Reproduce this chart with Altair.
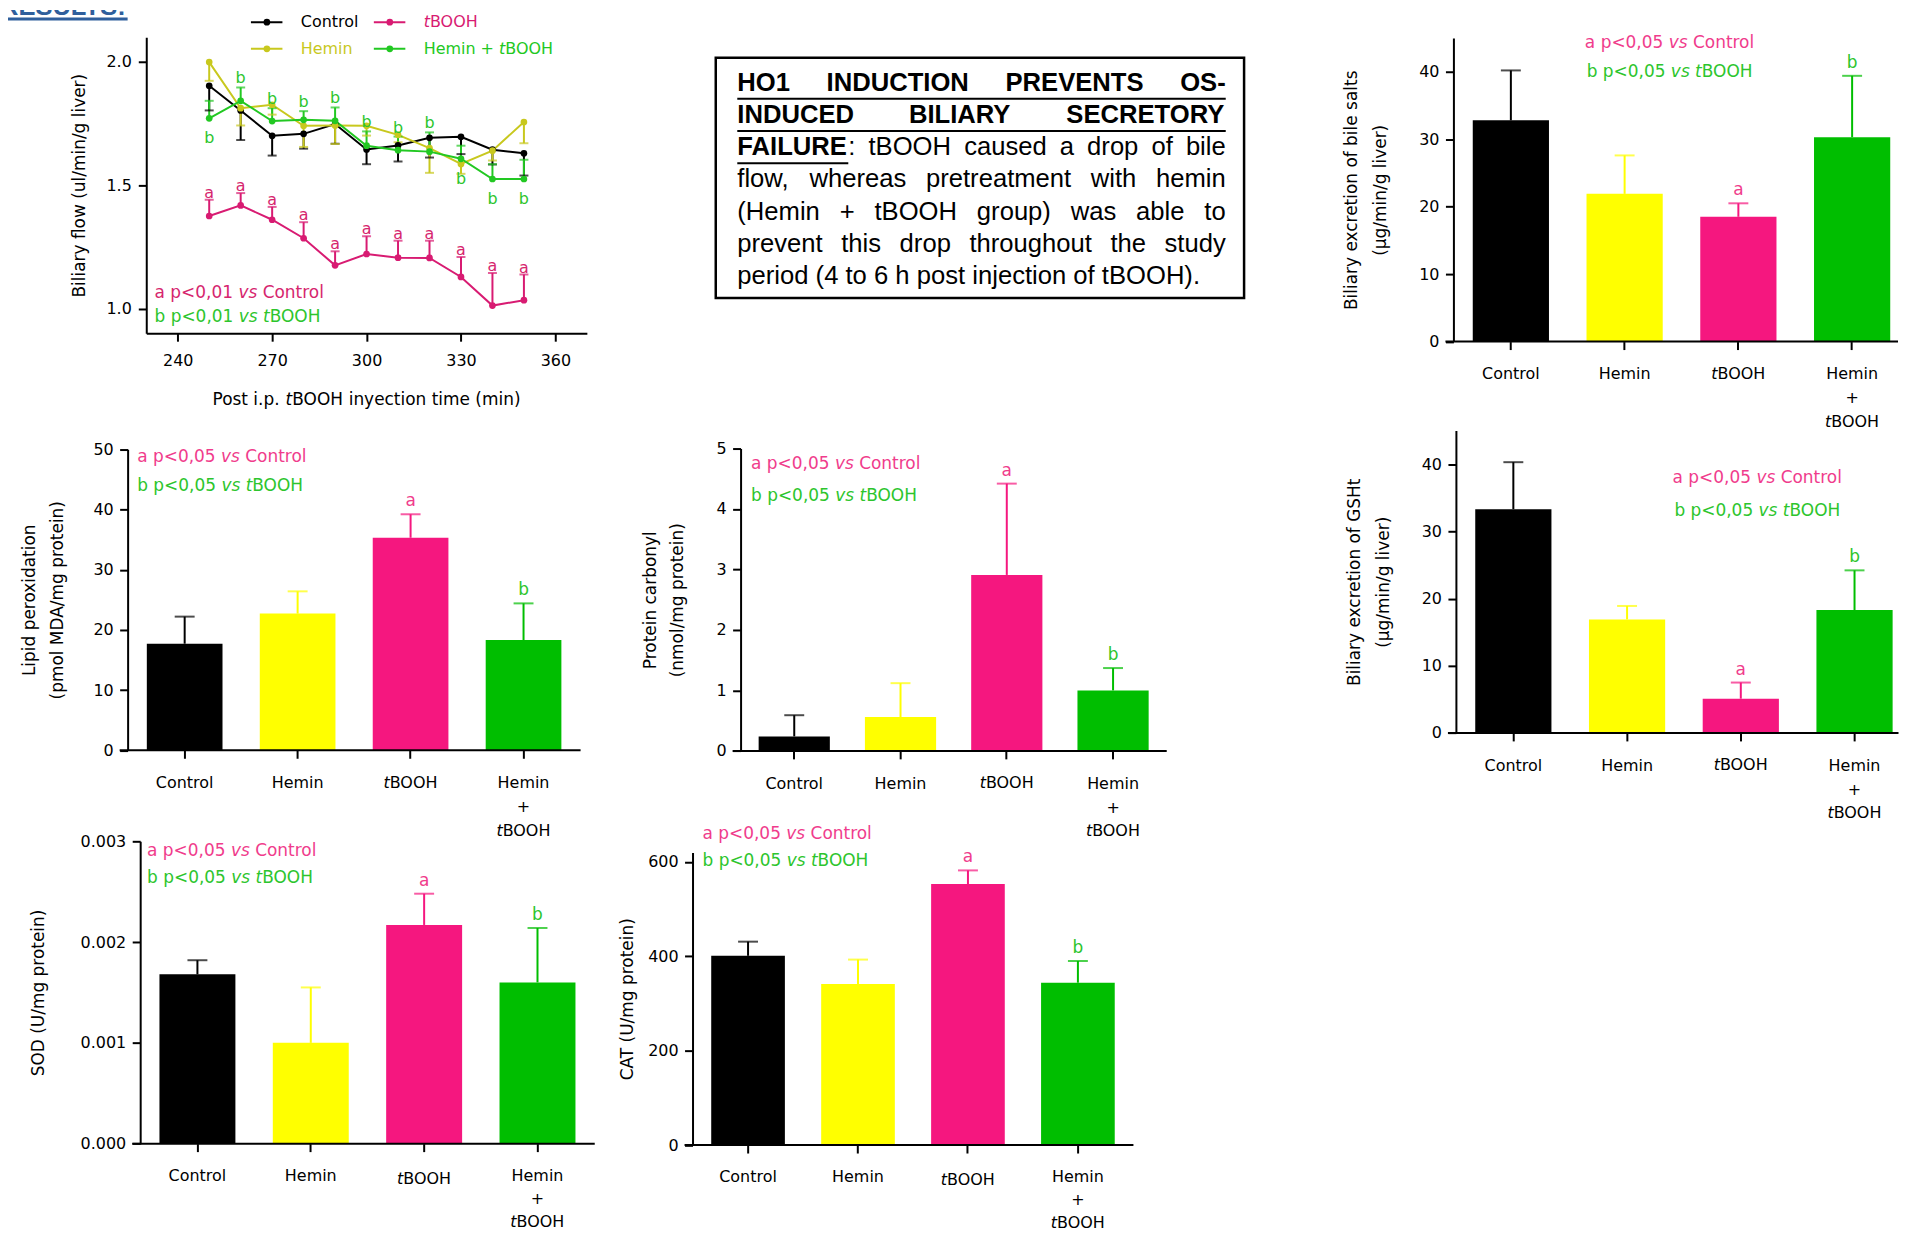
import altair as alt
import pandas as pd

# ------------------------------------------------------------------ data
groups = ["Control", "Hemin", "tBOOH", "Hemin + tBOOH"]
bar_colors = ["#000000", "#FFFF00", "#F5177F", "#00BE00"]
sig_letters = ["", "", "a", "b"]

bile_mean = [32.8, 21.9, 18.5, 30.3]
bile_sem = [7.4, 5.7, 2.0, 9.1]
gsh_mean = [33.3, 16.9, 5.1, 18.3]
gsh_sem = [7.0, 2.0, 2.4, 5.9]
lipid_mean = [17.7, 22.7, 35.3, 18.3]
lipid_sem = [4.5, 3.7, 3.9, 6.1]
carbonyl_mean = [0.24, 0.56, 2.91, 1.00]
carbonyl_sem = [0.35, 0.56, 1.51, 0.37]
sod_mean = [0.00168, 0.00100, 0.00217, 0.00160]
sod_sem = [0.00014, 0.00055, 0.00031, 0.00054]
cat_mean = [401, 341, 553, 344]
cat_sem = [30, 52, 29, 46]

times = [250, 260, 270, 280, 290, 300, 310, 320, 330, 340, 350]
series = ["Control", "tBOOH", "Hemin", "Hemin + tBOOH"]
line_colors = ["#000000", "#D81B72", "#C8C81E", "#22C822"]
flow_control = [1.903, 1.803, 1.700, 1.708, 1.748, 1.645, 1.661, 1.692, 1.696, 1.644, 1.629]
flow_control_sem = [0.10, 0.12, 0.08, 0.06, 0.08, 0.06, 0.065, 0.08, 0.07, 0.06, 0.09]
flow_hemin = [1.999, 1.812, 1.826, 1.741, 1.742, 1.741, 1.704, 1.650, 1.586, 1.640, 1.756]
flow_hemin_sem = [0.076, 0.07, 0.04, 0.086, 0.075, 0.04, 0.03, 0.10, 0.04, 0.04, 0.086]
flow_tbooh = [1.375, 1.418, 1.360, 1.285, 1.175, 1.221, 1.206, 1.205, 1.128, 1.012, 1.034]
flow_tbooh_sem = [0.066, 0.05, 0.052, 0.065, 0.057, 0.072, 0.069, 0.07, 0.081, 0.132, 0.104]
flow_ht = [1.771, 1.842, 1.760, 1.765, 1.761, 1.660, 1.642, 1.636, 1.607, 1.525, 1.525]
flow_ht_sem = [0.071, 0.054, 0.052, 0.035, 0.054, 0.058, 0.055, 0.078, 0.053, 0.06, 0.078]
b_side = ["below", "above", "above", "above", "above", "above", "above", "above",
          "below", "below", "below"]
flow_xtitle = "Post i.p. tBOOH inyection time (min)"

box_lines = [
    "HO1 INDUCTION PREVENTS OS-",
    "INDUCED BILIARY SECRETORY",
    "FAILURE: tBOOH caused a drop of bile",
    "flow, whereas pretreatment with hemin",
    "(Hemin + tBOOH group) was able to",
    "prevent this drop throughout the study",
    "period (4 to 6 h post injection of tBOOH).",
]
box_bold_chars = [26, 25, 7, 0, 0, 0, 0]
box_justify = [True, True, True, True, True, True, False]

# ------------------------------------------------------------------ style / canvas
FONT = "DejaVu Sans"
PINK_TXT = "#F03C8C"
GREEN_TXT = "#2DC52D"
LINE_PINK = "#D6266E"
CW, CH = 1897, 1140   # size of the shared drawing area

# DejaVu Sans advance widths (units per em = 2048), used to chain italic pieces
DV = {" ": 651, "(": 799, ")": 799, "+": 1716, ",": 651, ".": 651, "<": 1716,
      "0": 1303, "1": 1303, "5": 1303, "B": 1405, "C": 1430, "H": 1540, "O": 1612,
      "P": 1235, "a": 1255, "b": 1300, "c": 1126, "e": 1260, "i": 569, "l": 569,
      "m": 1995, "n": 1298, "o": 1253, "p": 1300, "r": 842, "s": 1067, "t": 803,
      "v": 1212, "y": 1212}


def dv_w(s, size):
    return sum(DV.get(c, 1250) for c in s) * size / 2048.0


def split_t(s):
    """Split text so that the 't' of every 'tBOOH' becomes an italic piece."""
    out = []
    parts = s.split("tBOOH")
    for i, p in enumerate(parts):
        if p:
            out.append((p, False))
        if i < len(parts) - 1:
            out.append(("t", True))
            out.append(("BOOH", False))
    return out


def one_row():
    return pd.DataFrame({"k": [0]})


def ann_layer(pieces, color, x, y, align="left", size=17):
    """pieces: list of (text, italic). Each piece is its own text mark."""
    total = sum(dv_w(t, size) for t, _ in pieces)
    cx = x - total / 2.0 if align == "center" else x
    layers = []
    for t, ital in pieces:
        lead = len(t) - len(t.lstrip(" "))
        body = t.strip(" ")
        sx = cx + dv_w(" " * lead, size)
        if body:
            kw = dict(text=body, color=color, font=FONT, fontSize=size, align="left",
                      baseline="middle")
            if ital:
                kw["fontStyle"] = "italic"
            layers.append(alt.Chart(one_row()).mark_text(**kw).encode(
                x=alt.value(sx), y=alt.value(y)))
        cx += dv_w(t, size)
    return alt.layer(*layers)


def pieces_a(p):
    return [("a p<" + p + " ", False), ("vs", True), (" Control", False)]


def pieces_b(p):
    return [("b p<" + p + " ", False), ("vs", True), (" ", False), ("t", True),
            ("BOOH", False)]


# ------------------------------------------------------------------ bar panels
def bar_panel(means, sems, ymax, yticks, yfmt, ytitle, x0, y0, width, height,
              title_pad, title_lh, ann_x, ann_ya, ann_yb, ann_align="left",
              band_w=None, lab_lh=24, lab_pad=16.5, tb_dy=0):
    ybot = y0 + height
    bw = band_w if band_w else width
    df = pd.DataFrame({
        "group": groups,
        "mean": means,
        "top": [m + s for m, s in zip(means, sems)],
        "sig": sig_letters,
    })
    x = alt.X("group:N", sort=groups,
              scale=alt.Scale(domain=groups, paddingInner=0.33, paddingOuter=0.17,
                              range=[x0, x0 + bw]),
              axis=alt.Axis(orient="bottom", offset=ybot - CH, title=None,
                            labelAngle=0, domain=False,
                            labelExpr=("datum.label == 'tBOOH' ? '' : "
                                       "(datum.label == 'Hemin + tBOOH' ? ['Hemin', '+'] "
                                       ": datum.label)"),
                            labelLineHeight=lab_lh, labelPadding=lab_pad,
                            labelFontSize=16))
    yaxis = alt.Axis(orient="left", offset=-x0, values=yticks, format=yfmt,
                     title=ytitle, titlePadding=title_pad, titleLineHeight=title_lh,
                     labelPadding=6.5)
    yscale = alt.Scale(domain=[0, ymax], nice=False, zero=True, range=[ybot, y0])
    color = alt.Color("group:N", scale=alt.Scale(domain=groups, range=bar_colors),
                      legend=None)
    base = alt.Chart(df)
    bars = base.mark_bar().encode(
        x=x, y=alt.Y("mean:Q", scale=yscale, axis=yaxis), color=color)
    err = base.mark_rule(strokeWidth=2).encode(
        x=x, y=alt.Y("mean:Q", scale=yscale, axis=yaxis), y2="top:Q", color=color)
    caps = base.mark_tick(orient="horizontal", size=20, thickness=2).encode(
        x=x, y=alt.Y("top:Q", scale=yscale, axis=yaxis), color=color)
    sig_a = base.transform_filter("datum.sig == 'a'").mark_text(
        dy=-8, fontSize=17, font=FONT, color=PINK_TXT, baseline="alphabetic").encode(
        x=x, y=alt.Y("top:Q", scale=yscale, axis=yaxis), text="sig:N")
    sig_b = base.transform_filter("datum.sig == 'b'").mark_text(
        dy=-8, fontSize=17, font=FONT, color=GREEN_TXT, baseline="alphabetic").encode(
        x=x, y=alt.Y("top:Q", scale=yscale, axis=yaxis), text="sig:N")
    # category labels containing tBOOH, with an italic "t"
    lab_top = ybot + 8 + lab_pad
    w_all = dv_w("tBOOH", 16)
    w_t = dv_w("t", 16)
    tb_layers = []
    for grp, line in (("tBOOH", 0), ("Hemin + tBOOH", 2)):
        yy = lab_top + line * lab_lh + (tb_dy if line == 0 else 0)
        sub = base.transform_filter(alt.datum.group == grp)
        tb_layers.append(sub.mark_text(
            text="t", fontStyle="italic", font=FONT, fontSize=16, color="black",
            align="left", baseline="top", dx=-w_all / 2).encode(
            x=x, y=alt.value(yy)))
        tb_layers.append(sub.mark_text(
            text="BOOH", font=FONT, fontSize=16, color="black",
            align="left", baseline="top", dx=-w_all / 2 + w_t).encode(
            x=x, y=alt.value(yy)))
    xline = alt.Chart(one_row()).mark_rule(color="black", strokeWidth=2).encode(
        x=alt.value(x0 - 8), x2=alt.value(x0 + width), y=alt.value(ybot))
    a_txt = ann_layer(pieces_a("0,05"), PINK_TXT, x0 + ann_x, y0 + ann_ya, ann_align)
    b_txt = ann_layer(pieces_b("0,05"), GREEN_TXT, x0 + ann_x, y0 + ann_yb, ann_align)
    return alt.layer(bars, err, caps, sig_a, sig_b, *tb_layers, xline, a_txt, b_txt)


# ------------------------------------------------------------------ line panel
def line_panel(x0, y0, W, H):
    ybot = y0 + H
    rows = []
    spec = [
        ("Control", flow_control, flow_control_sem, -1),
        ("tBOOH", flow_tbooh, flow_tbooh_sem, 1),
        ("Hemin", flow_hemin, flow_hemin_sem, -1),
        ("Hemin + tBOOH", flow_ht, flow_ht_sem, 1),
    ]
    for name, vals, sems, sign in spec:
        for i, (t, v, e) in enumerate(zip(times, vals, sems)):
            side = b_side[i] if name == "Hemin + tBOOH" else ""
            rows.append(dict(time=t, series=name, value=v, end=v + sign * e, side=side))
    df = pd.DataFrame(rows)
    x = alt.X("time:Q",
              scale=alt.Scale(domain=[230, 370], nice=False, zero=False, range=[x0, x0 + W]),
              axis=alt.Axis(orient="bottom", offset=ybot - CH,
                            values=[240, 270, 300, 330, 360], format="d",
                            title=None, labelPadding=11.5))
    yscale = alt.Scale(domain=[0.9, 2.1], nice=False, zero=False, range=[ybot, y0])
    yaxis = alt.Axis(orient="left", offset=-x0, values=[1.0, 1.5, 2.0], format=".1f",
                     title="Biliary flow (ul/min/g liver)", titlePadding=18,
                     labelPadding=7)
    color = alt.Color("series:N", scale=alt.Scale(domain=series, range=line_colors),
                      legend=None)
    base = alt.Chart(df)
    lines = base.mark_line(strokeWidth=2).encode(
        x=x, y=alt.Y("value:Q", scale=yscale, axis=yaxis), color=color)
    err = base.mark_rule(strokeWidth=2).encode(
        x=x, y=alt.Y("value:Q", scale=yscale, axis=yaxis), y2="end:Q", color=color)
    caps = base.mark_tick(orient="horizontal", size=9, thickness=2).encode(
        x=x, y=alt.Y("end:Q", scale=yscale, axis=yaxis), color=color)
    pts = base.mark_point(filled=True, size=45, opacity=1).encode(
        x=x, y=alt.Y("value:Q", scale=yscale, axis=yaxis), color=color)
    a_lab = base.transform_filter("datum.series == 'tBOOH'").mark_text(
        text="a", dy=-2, fontSize=16, font=FONT, color=LINE_PINK,
        baseline="alphabetic").encode(x=x, y=alt.Y("end:Q", scale=yscale, axis=yaxis))
    b_up = base.transform_filter("datum.side == 'above'").mark_text(
        text="b", dy=-4, fontSize=16, font=FONT, color=GREEN_TXT,
        baseline="alphabetic").encode(x=x, y=alt.Y("end:Q", scale=yscale, axis=yaxis))
    b_dn = base.transform_filter("datum.side == 'below'").mark_text(
        text="b", dy=25, fontSize=16, font=FONT, color=GREEN_TXT,
        baseline="alphabetic").encode(x=x, y=alt.Y("value:Q", scale=yscale, axis=yaxis))
    a_txt = ann_layer(pieces_a("0,01"), LINE_PINK, x0 + 8.3, y0 + 256.4)
    b_txt = ann_layer(pieces_b("0,01"), GREEN_TXT, x0 + 8.3, y0 + 280.7)
    x_title = ann_layer(split_t(flow_xtitle), "black", x0 + W / 2, ybot + 67, "center")
    data_group = alt.layer(lines, err, caps, pts, a_lab, b_up, b_dn, a_txt, b_txt, x_title)

    # legend, drawn in plot-pixel space of this panel
    leg_cols = [105, 228.3]
    leg_rows = [-15, 11.7]
    lrows, trows = [], []
    for i, name in enumerate(series):
        cx, ry = leg_cols[i % 2], leg_rows[i // 2]
        lrows.append(dict(series=name, lx0=cx, lx1=cx + 31.6, lxc=cx + 16, ly=ry))
        tx = cx + 50
        for t, ital in split_t(name):
            lead = len(t) - len(t.lstrip(" "))
            body = t.strip(" ")
            if body:
                trows.append(dict(series=name, tx=tx + dv_w(" " * lead, 16), ly=ry,
                                  text=body, ital="y" if ital else "n"))
            tx += dv_w(t, 16)
    ldf = pd.DataFrame(lrows)
    tdf = pd.DataFrame(trows)
    lxs = alt.Scale(domain=[0, W], nice=False, zero=False, range=[x0, x0 + W])
    lys = alt.Scale(domain=[0, H], nice=False, zero=False, range=[y0, y0 + H])
    lb = alt.Chart(ldf)
    l_rule = lb.mark_rule(strokeWidth=2).encode(
        x=alt.X("lx0:Q", scale=lxs, axis=None), x2="lx1:Q",
        y=alt.Y("ly:Q", scale=lys, axis=None), color=color)
    l_pt = lb.mark_point(filled=True, size=45, opacity=1).encode(
        x=alt.X("lxc:Q", scale=lxs, axis=None),
        y=alt.Y("ly:Q", scale=lys, axis=None), color=color)
    tb = alt.Chart(tdf)
    l_txt = tb.transform_filter("datum.ital == 'n'").mark_text(
        align="left", baseline="middle", font=FONT, fontSize=16).encode(
        x=alt.X("tx:Q", scale=lxs, axis=None),
        y=alt.Y("ly:Q", scale=lys, axis=None), text="text:N", color=color)
    l_txt_i = tb.transform_filter("datum.ital == 'y'").mark_text(
        align="left", baseline="middle", font=FONT, fontSize=16, fontStyle="italic").encode(
        x=alt.X("tx:Q", scale=lxs, axis=None),
        y=alt.Y("ly:Q", scale=lys, axis=None), text="text:N", color=color)
    legend_group = alt.layer(l_rule, l_pt, l_txt, l_txt_i)
    return alt.layer(data_group, legend_group).resolve_scale(
        x="independent", y="independent")


# ------------------------------------------------------------------ text box
AR = {" ": 278, "(": 333, ")": 333, "+": 584, ",": 278, "-": 333, ".": 278, ":": 278,
      "a": 556, "b": 556, "c": 500, "d": 556, "e": 556, "f": 278, "g": 556, "h": 556,
      "i": 222, "j": 222, "k": 500, "l": 222, "m": 833, "n": 556, "o": 556, "p": 556,
      "q": 556, "r": 333, "s": 500, "t": 278, "u": 556, "v": 500, "w": 722, "x": 500,
      "y": 500, "z": 500, "A": 667, "B": 667, "C": 722, "D": 722, "E": 667, "F": 611,
      "G": 778, "H": 722, "I": 278, "J": 500, "K": 667, "L": 556, "M": 833, "N": 722,
      "O": 778, "P": 667, "Q": 778, "R": 722, "S": 667, "T": 611, "U": 722, "V": 667,
      "W": 944, "X": 667, "Y": 667, "Z": 611}
AB = {" ": 278, "-": 333, ":": 333, "A": 722, "B": 722, "C": 722, "D": 722, "E": 667,
      "F": 611, "G": 778, "H": 722, "I": 278, "J": 556, "K": 722, "L": 611, "M": 833,
      "N": 722, "O": 778, "P": 667, "Q": 778, "R": 722, "S": 667, "T": 611, "U": 722,
      "V": 667, "W": 944, "X": 667, "Y": 667, "Z": 611}


def text_w(s, bold, size):
    tbl = AB if bold else AR
    return sum(tbl.get(c, 556) for c in s) * size / 1000.0


def text_box(x0, y0, W=530, H=241, F=25.7, left=21.6, tw=490, base=33.2, pitch=32.3):
    rows, unders = [], []
    for i, (line, nbold, just) in enumerate(zip(box_lines, box_bold_chars, box_justify)):
        y = base + i * pitch
        words = line.split(" ")
        pos = 0
        wsegs = []
        for w in words:
            k = max(0, min(len(w), nbold - pos))
            segs = []
            if k > 0:
                segs.append((w[:k], True))
            if k < len(w):
                segs.append((w[k:], False))
            wsegs.append(segs)
            pos += len(w) + 1
        widths = [sum(text_w(t, b, F) for t, b in segs) for segs in wsegs]
        if just and len(words) > 1:
            gap = (tw - sum(widths)) / (len(words) - 1)
        else:
            gap = text_w(" ", False, F)
        xx = left
        us = ue = None
        for segs, wd in zip(wsegs, widths):
            sx = xx
            for t, b in segs:
                w_ = text_w(t, b, F)
                rows.append(dict(x=sx, y=y, text=t, weight="bold" if b else "normal"))
                if b:
                    if us is None:
                        us = sx
                    ue = sx + w_
                sx += w_
            xx += wd + gap
        if us is not None:
            unders.append(dict(x=us, x2=ue, y=y + 8))
    df = pd.DataFrame(rows)
    udf = pd.DataFrame(unders)
    frame = pd.DataFrame({"bx": [0], "bx2": [W], "by": [0], "by2": [H]})
    xs = alt.Scale(domain=[0, W], nice=False, zero=False, range=[x0, x0 + W])
    ys = alt.Scale(domain=[0, H], nice=False, zero=False, range=[y0, y0 + H])
    reg = alt.Chart(df).transform_filter("datum.weight == 'normal'").mark_text(
        align="left", baseline="alphabetic", font="Liberation Sans", fontSize=F,
        color="black").encode(x=alt.X("x:Q", scale=xs, axis=None),
                              y=alt.Y("y:Q", scale=ys, axis=None), text="text:N")
    bold = alt.Chart(df).transform_filter("datum.weight == 'bold'").mark_text(
        align="left", baseline="alphabetic", font="Liberation Sans", fontSize=F,
        fontWeight="bold", color="black").encode(
        x=alt.X("x:Q", scale=xs, axis=None), y=alt.Y("y:Q", scale=ys, axis=None),
        text="text:N")
    und = alt.Chart(udf).mark_rule(color="black", strokeWidth=2).encode(
        x=alt.X("x:Q", scale=xs, axis=None), x2="x2:Q",
        y=alt.Y("y:Q", scale=ys, axis=None))
    border = alt.Chart(frame).mark_rect(fill=None, stroke="black", strokeWidth=2.5).encode(
        x=alt.X("bx:Q", scale=xs, axis=None), x2="bx2:Q",
        y=alt.Y("by:Q", scale=ys, axis=None), y2="by2:Q")
    return alt.layer(border, reg, bold, und)


def results_block():
    b = alt.Chart(one_row())
    txt = b.mark_text(text="RESULTS:", font="Liberation Sans", fontSize=25.6,
                      fontWeight="bold", color="#2F5F9C", align="left",
                      baseline="alphabetic", clip=True).encode(
        x=alt.value(-8), y=alt.value(5))
    ul = b.mark_rule(color="#2F5F9C", strokeWidth=3, clip=True).encode(
        x=alt.value(-8), x2=alt.value(120), y=alt.value(9))
    return alt.layer(txt, ul)


# ------------------------------------------------------------------ panels (pixel layout)
line_chart = line_panel(138.7, 27.3, 442, 297)
box = text_box(710, 48)
bile = bar_panel(bile_mean, bile_sem, 45, [0, 10, 20, 30, 40], "d",
                 ["Biliary excretion of bile salts", "(µg/min/g liver)"],
                 1450, 28.2, 446, 304.5, 29, 29, 217, 4.5, 33.8, "center",
                 band_w=457.6)
lipid = bar_panel(lipid_mean, lipid_sem, 50, [0, 10, 20, 30, 40, 50], "d",
                  ["Lipid peroxidation", "(pmol MDA/mg protein)"],
                  120, 440.7, 454.4, 302, 26, 28.5, 9.6, 7.6, 36.6)
carbonyl = bar_panel(carbonyl_mean, carbonyl_sem, 5, [0, 1, 2, 3, 4, 5], "d",
                     ["Protein carbonyl", "(nmol/mg protein)"],
                     734.9, 440, 427.5, 303.3, 30, 26.2, 10.5, 16, 47.3)
gsh = bar_panel(gsh_mean, gsh_sem, 45, [0, 10, 20, 30, 40], "d",
                ["Biliary excretion of GSHt", "(µg/min/g liver)"],
                1452.5, 422, 444, 303.3, 28.7, 29, 302.5, 47.7, 81, "center",
                band_w=457.5)
sod = bar_panel(sod_mean, sod_sem, 0.003, [0, 0.001, 0.002, 0.003], ".3f",
                "SOD (U/mg protein)", 132.6, 834, 456, 303.3, 33, 20, 6.9, 10, 37.3,
                lab_lh=23.5, lab_pad=16, tb_dy=3)
cat = bar_panel(cat_mean, cat_sem, 620, [0, 200, 400, 600], "d",
                "CAT (U/mg protein)", 686.7, 845.2, 442.3, 293.5, 11, 20, 10, -18.9, 8.5,
                lab_lh=23.5, lab_pad=15.5, tb_dy=4)

chart = alt.layer(
    results_block(), line_chart, box, bile, lipid, carbonyl, gsh, sod, cat
).resolve_scale(
    x="independent", y="independent", color="independent"
).properties(
    width=CW, height=CH, padding=0
).configure_view(stroke="transparent").configure_axis(
    domainColor="black", domainWidth=2, tickColor="black", tickWidth=2, tickSize=8,
    grid=False, labelFont=FONT, labelFontSize=16, labelColor="black",
    titleFont=FONT, titleFontSize=17, titleFontWeight="normal", titleColor="black")

chart.save("out.html", embed_options={"renderer": "svg", "actions": False})
